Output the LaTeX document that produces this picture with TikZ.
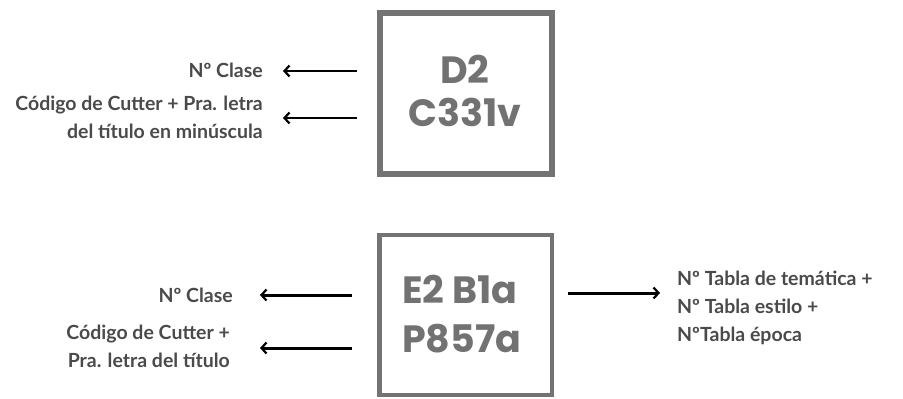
\documentclass[tikz,border=0pt]{standalone}
\usepackage{fontspec}
\usetikzlibrary{arrows.meta}
\newfontfamily\latofont{Lato}
\newfontfamily\boxfontfam{Poppins}
\definecolor{labelgray}{HTML}{4A4A4A}
\definecolor{boxgray}{HTML}{737373}
\definecolor{codegray}{HTML}{727272}
\begin{document}
\begin{tikzpicture}[x=1pt,y=-1pt,
  lbl/.style={text=labelgray,font={\latofont\bfseries\fontsize{19.5}{28}\selectfont},inner sep=0pt},
  codebox/.style={draw=boxgray,fill=none},
  code/.style={text=codegray,font={\boxfontfam\bfseries\fontsize{38}{43}\selectfont},inner sep=0pt},
  arr/.style={-{Straight Barb[length=5pt,width=11pt,line width=2.2pt]},line width=2.2pt,black}]
\useasboundingbox (0,0) rectangle (903,399);
% top box
\draw[codebox,line width=6pt] (380,13) rectangle (552,174);
\node[code,anchor=base] (d2) at (465,83) {D2};
\node[code,anchor=base] (c331) at (465,126) {C331v};
% bottom box
\draw[codebox,line width=4.5pt] (379.5,235) rectangle (552,395);
\node[code,anchor=base west] (e2) at (402,303) {E2 B1a};
\node[code,anchor=base west] (p857) at (402,352) {P857a};
% top labels
\node[lbl,anchor=base east] (t1) at (263,77) {Nº Clase};
\node[lbl,anchor=base east,align=right] (t2) at (263,138) {Código de Cutter + Pra. letra\\del título en minúscula};
% bottom labels
\node[lbl,anchor=base east] (b1) at (233,302) {Nº Clase};
\node[lbl,anchor=base east,align=right] (b2) at (230,367) {Código de Cutter +\\Pra. letra del título};
\node[lbl,anchor=base west,align=left] (r1) at (677,341) {Nº Tabla de temática +\\Nº Tabla estilo +\\NºTabla época};
% arrows
\coordinate (a1s) at (357,71); \coordinate (a1e) at (283,71);
\coordinate (a2s) at (357,118); \coordinate (a2e) at (283,118);
\coordinate (a3s) at (352,295); \coordinate (a3e) at (260,295);
\coordinate (a4s) at (352,348); \coordinate (a4e) at (260,348);
\coordinate (a5s) at (568,293); \coordinate (a5e) at (660,293);
\draw[arr] (a1s) -- (a1e);
\draw[arr] (a2s) -- (a2e);
\draw[arr,line width=3pt] (a3s) -- (a3e);
\draw[arr,line width=3pt] (a4s) -- (a4e);
\draw[arr,line width=3pt] (a5s) -- (a5e);
\end{tikzpicture}
\end{document}
